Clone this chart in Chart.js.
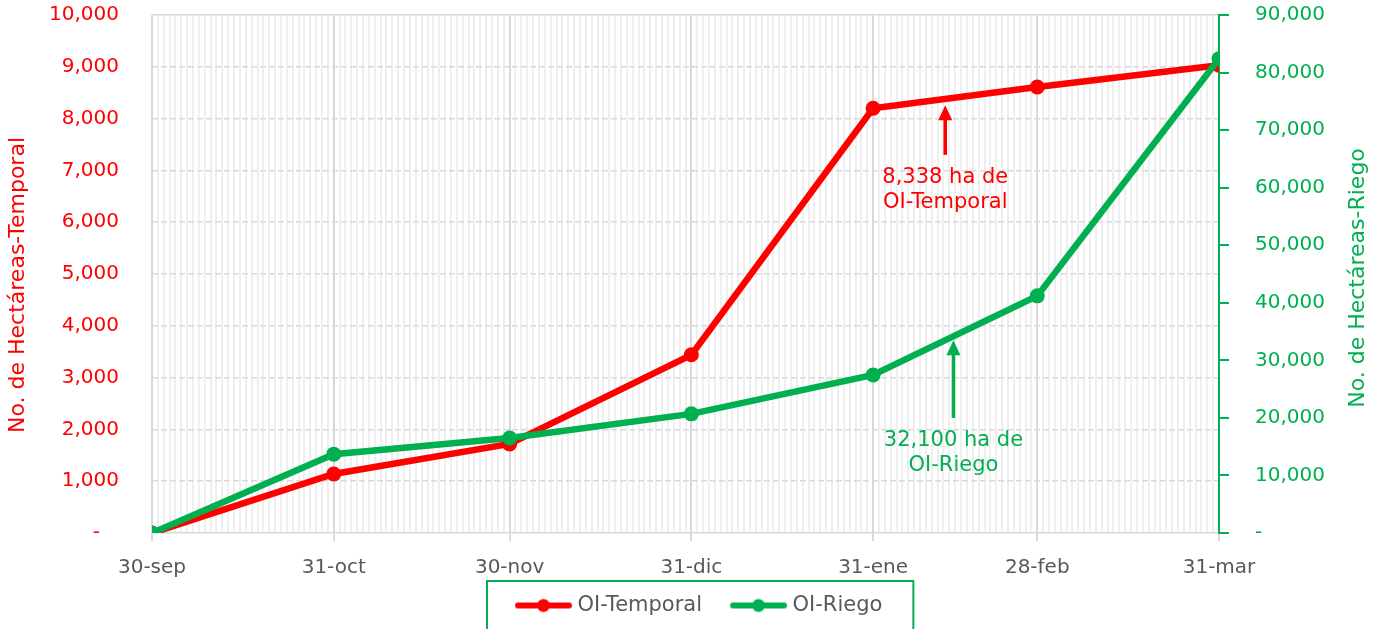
<!DOCTYPE html>
<html><head><meta charset="utf-8">
<script src="https://cdn.jsdelivr.net/npm/chart.js@4.4.1/dist/chart.umd.min.js"></script>
<style>html,body{margin:0;padding:0;background:#fff;overflow:hidden}#wrap{width:1379px;height:629px}</style>
</head><body><div id="wrap"><canvas id="c" width="1379" height="629"></canvas></div>
<script>
// ---- data ----
const dateLabels = ['30-sep','31-oct','30-nov','31-dic','31-ene','28-feb','31-mar'];
const dayOffsets = [0, 31, 61, 92, 123, 151, 182];          // days since 30-sep
const temporal   = [0, 1140, 1720, 3440, 8200, 8610, 9030]; // ha, left axis
const riego      = [0, 13700, 16500, 20700, 27450, 41200, 82400]; // ha, right axis
const leftMax = 10000, leftStep = 1000;
const rightMax = 90000, rightStep = 10000;
const seriesNames = ['OI-Temporal', 'OI-Riego'];
const axisTitles = ['No. de Hectáreas-Temporal', 'No. de Hectáreas-Riego'];
const noteTemporal = {lines: ['8,338 ha de', 'OI-Temporal'], day: 135.3, tip: 8260, tail: 7300};
const noteRiego    = {lines: ['32,100 ha de', 'OI-Riego'], day: 136.7, tip: 33500, tail: 20000};

const RED = '#FF0000', GREEN = '#00B050', GREY = '#595959';
const FONT = 'DejaVu Sans';
const ICON_BOX = 80, ICON_W = ICON_BOX + 12;

function fmt(v){ return v.toLocaleString('en-US'); }

function legendIcon(color){
  const c = document.createElement('canvas');
  c.width = ICON_W; c.height = 16;
  const x = c.getContext('2d');
  x.strokeStyle = color; x.lineWidth = 6; x.lineCap = 'round';
  x.beginPath(); x.moveTo(ICON_W - 55, 8); x.lineTo(ICON_W - 4, 8); x.stroke();
  x.fillStyle = color; x.beginPath(); x.arc(ICON_W - 29.5, 8, 6.5, 0, Math.PI*2); x.fill();
  return c;
}

const extras = {
  id: 'extras',
  afterLayout(chart){
    const lg = chart.legend;
    const natural = (lg.left + lg.right - lg.lineWidths[0]) / 2;
    const shift = 487 - natural;
    lg.left += shift; lg.right += shift;
  },
  beforeDatasetsDraw(chart){
    // short outward tick marks on the right axis
    const ctx = chart.ctx, ys = chart.scales.y1, r = chart.chartArea.right;
    ctx.save(); ctx.strokeStyle = GREEN; ctx.lineWidth = 2;
    ys.ticks.forEach(t => {
      const y = Math.round(ys.getPixelForValue(t.value));
      ctx.beginPath(); ctx.moveTo(r, y); ctx.lineTo(r + 10, y); ctx.stroke();
    });
    ctx.restore();
  },
  afterDatasetsDraw(chart){
    const ctx = chart.ctx, xs = chart.scales.x;
    const notes = [[noteTemporal, chart.scales.y, RED], [noteRiego, chart.scales.y1, GREEN]];
    for (const [n, ys, col] of notes){
      const px = xs.getPixelForValue(n.day);
      const tipY = ys.getPixelForValue(n.tip), tailY = ys.getPixelForValue(n.tail);
      ctx.save();
      ctx.strokeStyle = col; ctx.fillStyle = col; ctx.lineWidth = 3.5;
      ctx.beginPath(); ctx.moveTo(px, tailY); ctx.lineTo(px, tipY + 12); ctx.stroke();
      ctx.beginPath(); ctx.moveTo(px, tipY); ctx.lineTo(px - 7, tipY + 15); ctx.lineTo(px + 7, tipY + 15); ctx.closePath(); ctx.fill();
      ctx.font = '21px "' + FONT + '"'; ctx.textAlign = 'center'; ctx.textBaseline = 'middle';
      n.lines.forEach((t, i) => ctx.fillText(t, px, tailY + 23 + i * 25));
      ctx.restore();
    }
  },
  afterDraw(chart){
    const ctx = chart.ctx, ca = chart.chartArea;
    const cy = (ca.top + ca.bottom) / 2;
    const drawTitle = (text, x, y, color) => {
      ctx.save();
      ctx.font = '22px "' + FONT + '"'; ctx.textAlign = 'center'; ctx.textBaseline = 'middle';
      ctx.fillStyle = color;
      ctx.translate(x, y); ctx.rotate(-Math.PI/2);
      ctx.fillText(text, 0, 0);
      ctx.restore();
    };
    drawTitle(axisTitles[0], 18, cy + 11, RED);
    drawTitle(axisTitles[1], chart.width - 21, cy + 4, GREEN);
    // legend frame
    const lg = chart.legend, hb = lg.legendHitBoxes;
    if (hb && hb.length){
      const l = hb[0].left, r = hb[hb.length-1].left + hb[hb.length-1].width + 31;
      ctx.save(); ctx.strokeStyle = GREEN; ctx.lineWidth = 2;
      ctx.strokeRect(l, lg.top - 14, r - l, 80);
      ctx.restore();
    }
  }
};

const isMajor = v => dayOffsets.includes(v);

new Chart(document.getElementById('c'), {
  type: 'line',
  data: {
    datasets: [
      { label: seriesNames[0], data: dayOffsets.map((d,i)=>({x:d, y:temporal[i]})), yAxisID: 'y',
        borderColor: RED, backgroundColor: RED, pointBackgroundColor: RED, borderWidth: 6.5,
        pointRadius: 7.5, pointHoverRadius: 7.5, pointBorderWidth: 0, tension: 0, order: 1 },
      { label: seriesNames[1], data: dayOffsets.map((d,i)=>({x:d, y:riego[i]})), yAxisID: 'y1',
        borderColor: GREEN, backgroundColor: GREEN, pointBackgroundColor: GREEN, borderWidth: 6.5,
        pointRadius: 7.5, pointHoverRadius: 7.5, pointBorderWidth: 0, tension: 0, order: 0 }
    ]
  },
  options: {
    responsive: false, animation: false, devicePixelRatio: 1,
    layout: { padding: { top: 0, bottom: 3, left: 46, right: 51 } },
    plugins: {
      tooltip: { enabled: false },
      legend: {
        position: 'bottom',
        labels: {
          color: GREY, font: { family: FONT, size: 21 }, usePointStyle: true, pointStyleWidth: ICON_BOX,
          padding: 0,
          generateLabels(chart){
            const items = Chart.defaults.plugins.legend.labels.generateLabels(chart);
            items.sort((a,b)=>a.datasetIndex-b.datasetIndex);
            items.forEach(it => { it.pointStyle = legendIcon(chart.data.datasets[it.datasetIndex].borderColor); it.fontColor = GREY; });
            return items;
          }
        }
      }
    },
    scales: {
      x: {
        type: 'linear', min: dayOffsets[0], max: dayOffsets[dayOffsets.length-1],
        afterBuildTicks(scale){
          const t = []; for (let d = dayOffsets[0]; d <= dayOffsets[dayOffsets.length-1]; d++) t.push({value: d});
          scale.ticks = t;
        },
        ticks: {
          autoSkip: false, maxRotation: 0, minRotation: 0, padding: 15, color: GREY,
          font: { family: FONT, size: 20 },
          callback(v){ const i = dayOffsets.indexOf(v); return i >= 0 ? dateLabels[i] : ''; }
        },
        grid: {
          color: c => isMajor(c.tick && c.tick.value) ? '#d9d9d9' : '#efefef',
          lineWidth: 2, tickLength: 8,
          tickColor: c => isMajor(c.tick && c.tick.value) ? '#d9d9d9' : 'rgba(0,0,0,0)'
        },
        border: { display: false }
      },
      y: {
        position: 'left', min: 0, max: leftMax,
        ticks: { stepSize: leftStep, color: RED, padding: 3, font: { family: FONT, size: 20 },
          callback: v => v === 0 ? '-   ' : fmt(v) },
        grid: { color: '#d9d9d9', lineWidth: 1.5, drawTicks: true, tickLength: 30, tickColor: 'rgba(0,0,0,0)' },
        border: { display: false, dash: c => (c.tick && (c.tick.value === 0 || c.tick.value === leftMax)) ? [] : [6, 3] },
        title: { display: false }
      },
      y1: {
        position: 'right', min: 0, max: rightMax,
        ticks: { stepSize: rightStep, color: GREEN, padding: 3, font: { family: FONT, size: 20 },
          callback: v => v === 0 ? '-' : fmt(v) },
        grid: { drawOnChartArea: false, tickColor: 'rgba(0,0,0,0)', tickLength: 33 },
        border: { display: true, color: GREEN, width: 2 },
        title: { display: false }
      }
    }
  },
  plugins: [extras]
});
</script></body></html>
